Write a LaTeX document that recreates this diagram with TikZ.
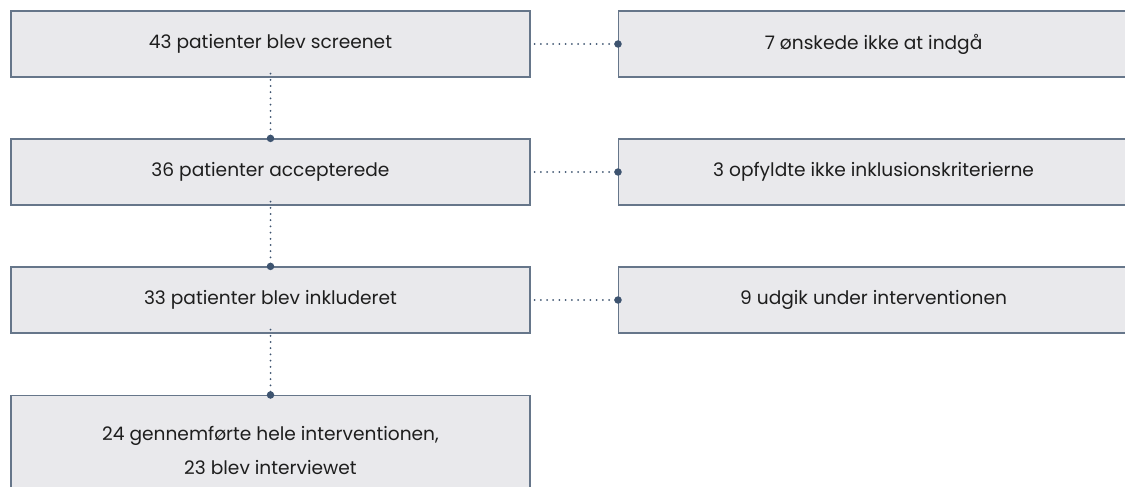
\documentclass[tikz,border=0pt]{standalone}
\usepackage{fontspec}
\setmainfont{Poppins}
\definecolor{boxfill}{HTML}{E9E9EC}
\definecolor{boxline}{HTML}{66768A}
\definecolor{conn}{HTML}{3E5470}
\definecolor{txt}{HTML}{1E1E1E}
\begin{document}
\begin{tikzpicture}[x=1pt,y=-1pt,
  flowbox/.style={draw=boxline, fill=boxfill, line width=1.2pt, minimum height=66pt,
    inner sep=0pt, text=txt, font=\fontsize{18.6}{34}\selectfont, align=center},
  leftbox/.style={flowbox, minimum width=519pt},
  rightbox/.style={flowbox, minimum width=510pt},
  dotline/.style={conn, line width=2pt, line cap=round, dash pattern=on 0pt off 6.2pt},
  enddot/.style={circle, fill=conn, inner sep=0pt, minimum size=7.5pt}
]
\useasboundingbox (0,0) rectangle (1125,487);
\clip (0,0) rectangle (1125,487);
\node[leftbox] (a1) at (270.5,44) {43 patienter blev screenet};
\node[leftbox] (a2) at (270.5,172) {36 patienter accepterede};
\node[leftbox] (a3) at (270.5,300) {33 patienter blev inkluderet};
\node[leftbox, minimum height=110pt, anchor=north] (a4) at (270.5,395) {24 gennemførte hele interventionen,\\23 blev interviewet};
\node[rightbox, anchor=west] (b1) at (618,44) {7 ønskede ikke at indgå};
\node[rightbox, anchor=west] (b2) at (618,172) {3 opfyldte ikke inklusionskriterierne};
\node[rightbox, anchor=west] (b3) at (618,300) {9 udgik under interventionen};
\foreach \s/\t in {a1/b1,a2/b2,a3/b3}{
  \draw[dotline] ([xshift=4pt]\s.east) -- (\t.west);
  \node[enddot] at (\t.west) {};
}
\foreach \s/\t in {a1/a2,a2/a3,a3/a4}{
  \draw[dotline] ([yshift=4pt]\s.south) -- (\t.north);
  \node[enddot] at (\t.north) {};
}
\end{tikzpicture}
\end{document}
